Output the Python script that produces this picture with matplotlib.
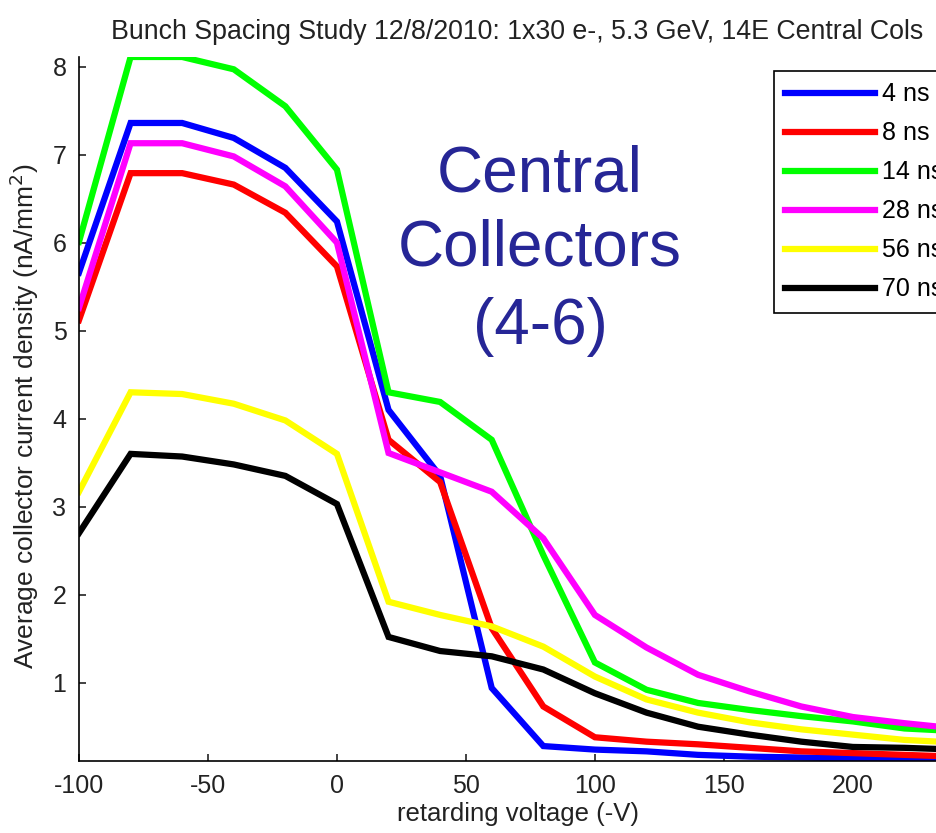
import matplotlib
matplotlib.use("Agg")
import matplotlib.pyplot as plt

plt.rcParams["font.family"] = ["Liberation Sans", "DejaVu Sans"]
plt.rcParams["axes.unicode_minus"] = False

# retarding voltage steps (-V)
volts = [-100, -80, -60, -40, -20, 0, 20, 40, 60, 80, 100, 120, 140, 160, 180, 200, 220, 240]

# average collector current density (nA/mm^2), one list per bunch spacing
ns4 = [5.66, 7.36, 7.36, 7.19, 6.85, 6.24, 4.10, 3.35, 0.94, 0.28, 0.24, 0.22, 0.18, 0.16, 0.15, 0.14, 0.13, 0.11]
ns8 = [5.12, 6.79, 6.79, 6.66, 6.34, 5.73, 3.76, 3.28, 1.62, 0.73, 0.38, 0.33, 0.30, 0.26, 0.22, 0.20, 0.18, 0.16]
ns14 = [6.01, 8.11, 8.11, 7.97, 7.55, 6.83, 4.30, 4.19, 3.76, 2.45, 1.23, 0.92, 0.77, 0.69, 0.62, 0.56, 0.48, 0.45]
ns28 = [5.26, 7.13, 7.13, 6.98, 6.64, 6.00, 3.61, 3.39, 3.17, 2.64, 1.77, 1.40, 1.09, 0.90, 0.73, 0.61, 0.54, 0.48]
ns56 = [3.17, 4.30, 4.28, 4.17, 3.98, 3.60, 1.92, 1.77, 1.64, 1.41, 1.07, 0.81, 0.66, 0.55, 0.47, 0.41, 0.35, 0.32]
ns70 = [2.70, 3.60, 3.57, 3.48, 3.35, 3.03, 1.52, 1.36, 1.30, 1.15, 0.88, 0.66, 0.50, 0.41, 0.33, 0.27, 0.26, 0.24]

labels = ["4 ns", "8 ns", "14 ns", "28 ns", "56 ns", "70 ns"]
series = [ns4, ns8, ns14, ns28, ns56, ns70]
colors = ["#0000ff", "#ff0000", "#00ff00", "#ff00ff", "#ffff00", "#000000"]

fig = plt.figure(figsize=(9.36, 8.33), dpi=100)
# axes run past the right edge, as in the cropped original
ax = fig.add_axes([0.0844, 0.0864, 0.937, 0.8452])

for vals, lab, col in zip(series, labels, colors):
    ax.plot(volts, vals, color=col, lw=4.5, label=lab, solid_joinstyle="miter")

ax.set_xlim(volts[0], volts[-1])
all_vals = [v for s in series for v in s]
ax.set_ylim(min(all_vals), max(all_vals))
ax.set_xticks([-100, -50, 0, 50, 100, 150, 200])
ax.set_yticks([1, 2, 3, 4, 5, 6, 7, 8])

for side in ["top", "right"]:
    ax.spines[side].set_visible(False)
for side in ["left", "bottom"]:
    ax.spines[side].set_linewidth(1.2)
ax.tick_params(direction="in", length=5, width=1.2, labelsize=18, pad=9, colors="#222222")

ax.set_title("Bunch Spacing Study 12/8/2010: 1x30 e-, 5.3 GeV, 14E Central Cols",
             fontsize=19.3, pad=13, color="#222222")
ax.set_xlabel("retarding voltage (-V)", fontsize=18.5, labelpad=3, color="#222222")
ax.set_ylabel("Average collector current density (nA/mm$^2$)", fontsize=19, color="#222222")
ax.yaxis.set_label_coords(-0.043, 0.49)

leg = ax.legend(loc="upper left", bbox_to_anchor=(774 / 936, 1 - 71 / 833),
                bbox_transform=fig.transFigure, fontsize=18, handlelength=3.6,
                handletextpad=0.25, labelspacing=0.6, borderpad=0.45,
                fancybox=False, framealpha=1, edgecolor="black", borderaxespad=0)
leg.get_frame().set_linewidth(1.2)

note_color = "#262696"
fig.text(540 / 936, 1 - 192 / 833, "Central", ha="center", va="baseline",
         fontsize=46, color=note_color)
fig.text(540 / 936, 1 - 266 / 833, "Collectors", ha="center", va="baseline",
         fontsize=46, color=note_color)
fig.text(540 / 936, 1 - 344 / 833, "(4-6)", ha="center", va="baseline",
         fontsize=46, color=note_color)

fig.savefig("out.png", dpi=100)
